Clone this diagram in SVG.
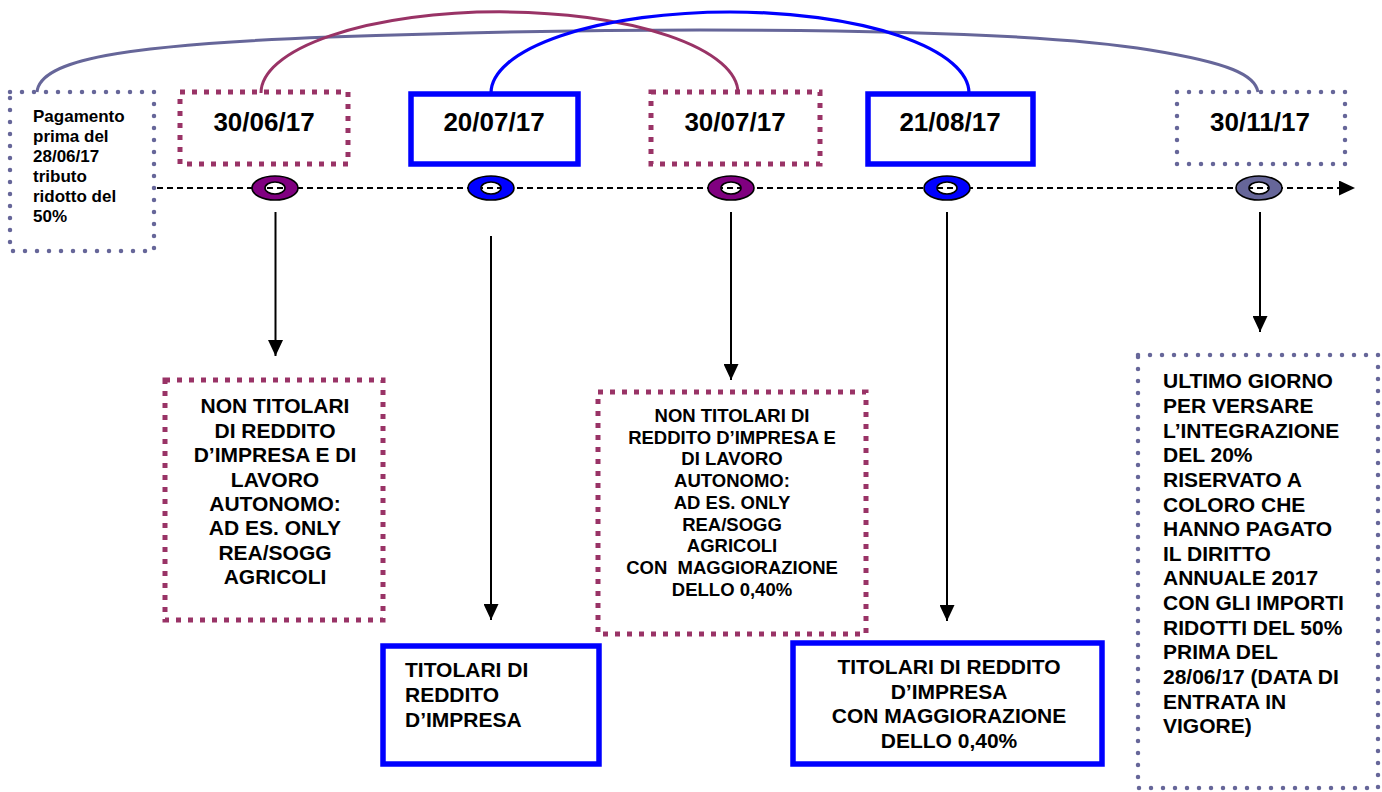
<svg xmlns="http://www.w3.org/2000/svg" width="1382" height="792" viewBox="0 0 1382 792">
<defs>
<style>
text{font-family:"Liberation Sans",Arial,sans-serif;font-weight:bold;fill:#000}
.date{font-size:26px;text-anchor:middle}
.sq{fill:none;stroke:#993366;stroke-width:5;stroke-dasharray:5 7}
.dot{fill:none;stroke:#666699;stroke-width:4.5;stroke-linecap:round;stroke-dasharray:0 12}
.solid{fill:none;stroke:#0000FF;stroke-width:5.5}
.t21{font-size:21px}
.t18{font-size:18.5px}
.t17{font-size:17px}
.mid{text-anchor:middle}
.vline{stroke:#000;stroke-width:2;fill:none}
.ring{stroke:#000;stroke-width:1.6;fill-rule:evenodd}
</style>
<marker id="ah" viewBox="0 0 16 15" refX="16" refY="7.5" markerWidth="16" markerHeight="15" markerUnits="userSpaceOnUse" orient="auto">
<path d="M0,0 L16,7.5 L0,15 Z" fill="#000"/>
</marker>
</defs>
<rect width="1382" height="792" fill="#fff"/>

<g id="connectors">
<path d="M37,92 C40,60 120,45 330,37 C500,31 600,30 700,30 C900,30 1060,35 1150,50 C1230,63 1255,75 1258,92" fill="none" stroke="#666699" stroke-width="3"/>
<path d="M261,93 A238 81 0 0 1 738 93" fill="none" stroke="#993366" stroke-width="3"/>
<path d="M491,93 A239 81 0 0 1 969 93" fill="none" stroke="#0000FF" stroke-width="3.2"/>
<line x1="157" y1="188" x2="1355" y2="188" stroke="#000" stroke-width="2" stroke-dasharray="6 4" marker-end="url(#ah)"/>
<line class="vline" x1="275.5" y1="212" x2="275.5" y2="356" marker-end="url(#ah)"/>
<line class="vline" x1="491" y1="236" x2="491" y2="620" marker-end="url(#ah)"/>
<line class="vline" x1="731" y1="212" x2="731" y2="380" marker-end="url(#ah)"/>
<line class="vline" x1="947" y1="212" x2="947" y2="621" marker-end="url(#ah)"/>
<line class="vline" x1="1260" y1="212" x2="1260" y2="332" marker-end="url(#ah)"/>
</g>

<g id="markers">
<path class="ring" fill="#800080" d="M252,188 a23,12 0 1,0 46,0 a23,12 0 1,0 -46,0 Z M265,188 a10,6 0 1,0 20,0 a10,6 0 1,0 -20,0 Z"/>
<path class="ring" fill="#0000FF" d="M468,188 a23,12 0 1,0 46,0 a23,12 0 1,0 -46,0 Z M481,188 a10,6 0 1,0 20,0 a10,6 0 1,0 -20,0 Z"/>
<path class="ring" fill="#800080" d="M708,188 a23,12 0 1,0 46,0 a23,12 0 1,0 -46,0 Z M721,188 a10,6 0 1,0 20,0 a10,6 0 1,0 -20,0 Z"/>
<path class="ring" fill="#0000FF" d="M924,188 a23,12 0 1,0 46,0 a23,12 0 1,0 -46,0 Z M937,188 a10,6 0 1,0 20,0 a10,6 0 1,0 -20,0 Z"/>
<path class="ring" fill="#666699" d="M1236,188 a23,12 0 1,0 46,0 a23,12 0 1,0 -46,0 Z M1249,188 a10,6 0 1,0 20,0 a10,6 0 1,0 -20,0 Z"/>
</g>

<g id="node-pagamento">
<rect class="dot" x="10" y="92" width="144" height="159"/>
<text class="t17" x="33" y="121.7">Pagamento</text>
<text class="t17" x="33" y="141.7">prima del</text>
<text class="t17" x="33" y="161.7">28/06/17</text>
<text class="t17" x="33" y="181.7">tributo</text>
<text class="t17" x="33" y="201.7">ridotto del</text>
<text class="t17" x="33" y="221.7">50%</text>
</g>

<g id="node-300617">
<rect class="sq" x="180" y="92" width="168" height="72"/>
<text class="date" x="264" y="131">30/06/17</text>
</g>
<g id="node-200717">
<rect class="solid" x="411" y="94" width="167" height="70"/>
<text class="date" x="494" y="131">20/07/17</text>
</g>
<g id="node-300717">
<rect class="sq" x="651" y="92" width="169" height="72"/>
<text class="date" x="735" y="131">30/07/17</text>
</g>
<g id="node-210817">
<rect class="solid" x="868" y="94" width="165" height="70"/>
<text class="date" x="950" y="131">21/08/17</text>
</g>
<g id="node-301117">
<rect class="dot" x="1177" y="92" width="168" height="72"/>
<text class="date" x="1260" y="131">30/11/17</text>
</g>

<g id="node-non-titolari-1">
<rect class="sq" x="165" y="380" width="218" height="240"/>
<text class="t21 mid" x="275" y="413.3">NON TITOLARI</text>
<text class="t21 mid" x="275" y="437.7">DI REDDITO</text>
<text class="t21 mid" x="275" y="462.1">D’IMPRESA E DI</text>
<text class="t21 mid" x="275" y="486.5">LAVORO</text>
<text class="t21 mid" x="275" y="510.9">AUTONOMO:</text>
<text class="t21 mid" x="275" y="535.3">AD ES. ONLY</text>
<text class="t21 mid" x="275" y="559.7">REA/SOGG</text>
<text class="t21 mid" x="275" y="584.1">AGRICOLI</text>
</g>

<g id="node-titolari-1">
<rect class="solid" x="383" y="646" width="216" height="118"/>
<text class="t21" x="405" y="676.7">TITOLARI DI</text>
<text class="t21" x="405" y="701.7">REDDITO</text>
<text class="t21" x="405" y="726.7">D’IMPRESA</text>
</g>

<g id="node-non-titolari-2">
<rect class="sq" x="598" y="392" width="268" height="242"/>
<text class="t18 mid" x="732" y="422">NON TITOLARI DI</text>
<text class="t18 mid" x="732" y="443.7">REDDITO D’IMPRESA E</text>
<text class="t18 mid" x="732" y="465.4">DI LAVORO</text>
<text class="t18 mid" x="732" y="487.1">AUTONOMO:</text>
<text class="t18 mid" x="732" y="508.8">AD ES. ONLY</text>
<text class="t18 mid" x="732" y="530.5">REA/SOGG</text>
<text class="t18 mid" x="732" y="552.2">AGRICOLI</text>
<text class="t18 mid" x="732" y="573.9" xml:space="preserve">CON  MAGGIORAZIONE</text>
<text class="t18 mid" x="732" y="595.6">DELLO 0,40%</text>
</g>

<g id="node-titolari-2">
<rect class="solid" x="793" y="643" width="309" height="121"/>
<text class="t21 mid" x="949" y="674">TITOLARI DI REDDITO</text>
<text class="t21 mid" x="949" y="698.5">D’IMPRESA</text>
<text class="t21 mid" x="949" y="723">CON MAGGIORAZIONE</text>
<text class="t21 mid" x="949" y="747.5">DELLO 0,40%</text>
</g>

<g id="node-ultimo-giorno">
<rect class="dot" x="1138" y="355" width="240" height="433"/>
<text class="t21" x="1163" y="388.3">ULTIMO GIORNO</text>
<text class="t21" x="1163" y="412.9">PER VERSARE</text>
<text class="t21" x="1163" y="437.6">L’INTEGRAZIONE</text>
<text class="t21" x="1163" y="462.2">DEL 20%</text>
<text class="t21" x="1163" y="486.9">RISERVATO A</text>
<text class="t21" x="1163" y="511.5">COLORO CHE</text>
<text class="t21" x="1163" y="536.1">HANNO PAGATO</text>
<text class="t21" x="1163" y="560.8">IL DIRITTO</text>
<text class="t21" x="1163" y="585.4">ANNUALE 2017</text>
<text class="t21" x="1163" y="610.1">CON GLI IMPORTI</text>
<text class="t21" x="1163" y="634.7">RIDOTTI DEL 50%</text>
<text class="t21" x="1163" y="659.3">PRIMA DEL</text>
<text class="t21" x="1163" y="684">28/06/17 (DATA DI</text>
<text class="t21" x="1163" y="708.6">ENTRATA IN</text>
<text class="t21" x="1163" y="733.3">VIGORE)</text>
</g>
</svg>
